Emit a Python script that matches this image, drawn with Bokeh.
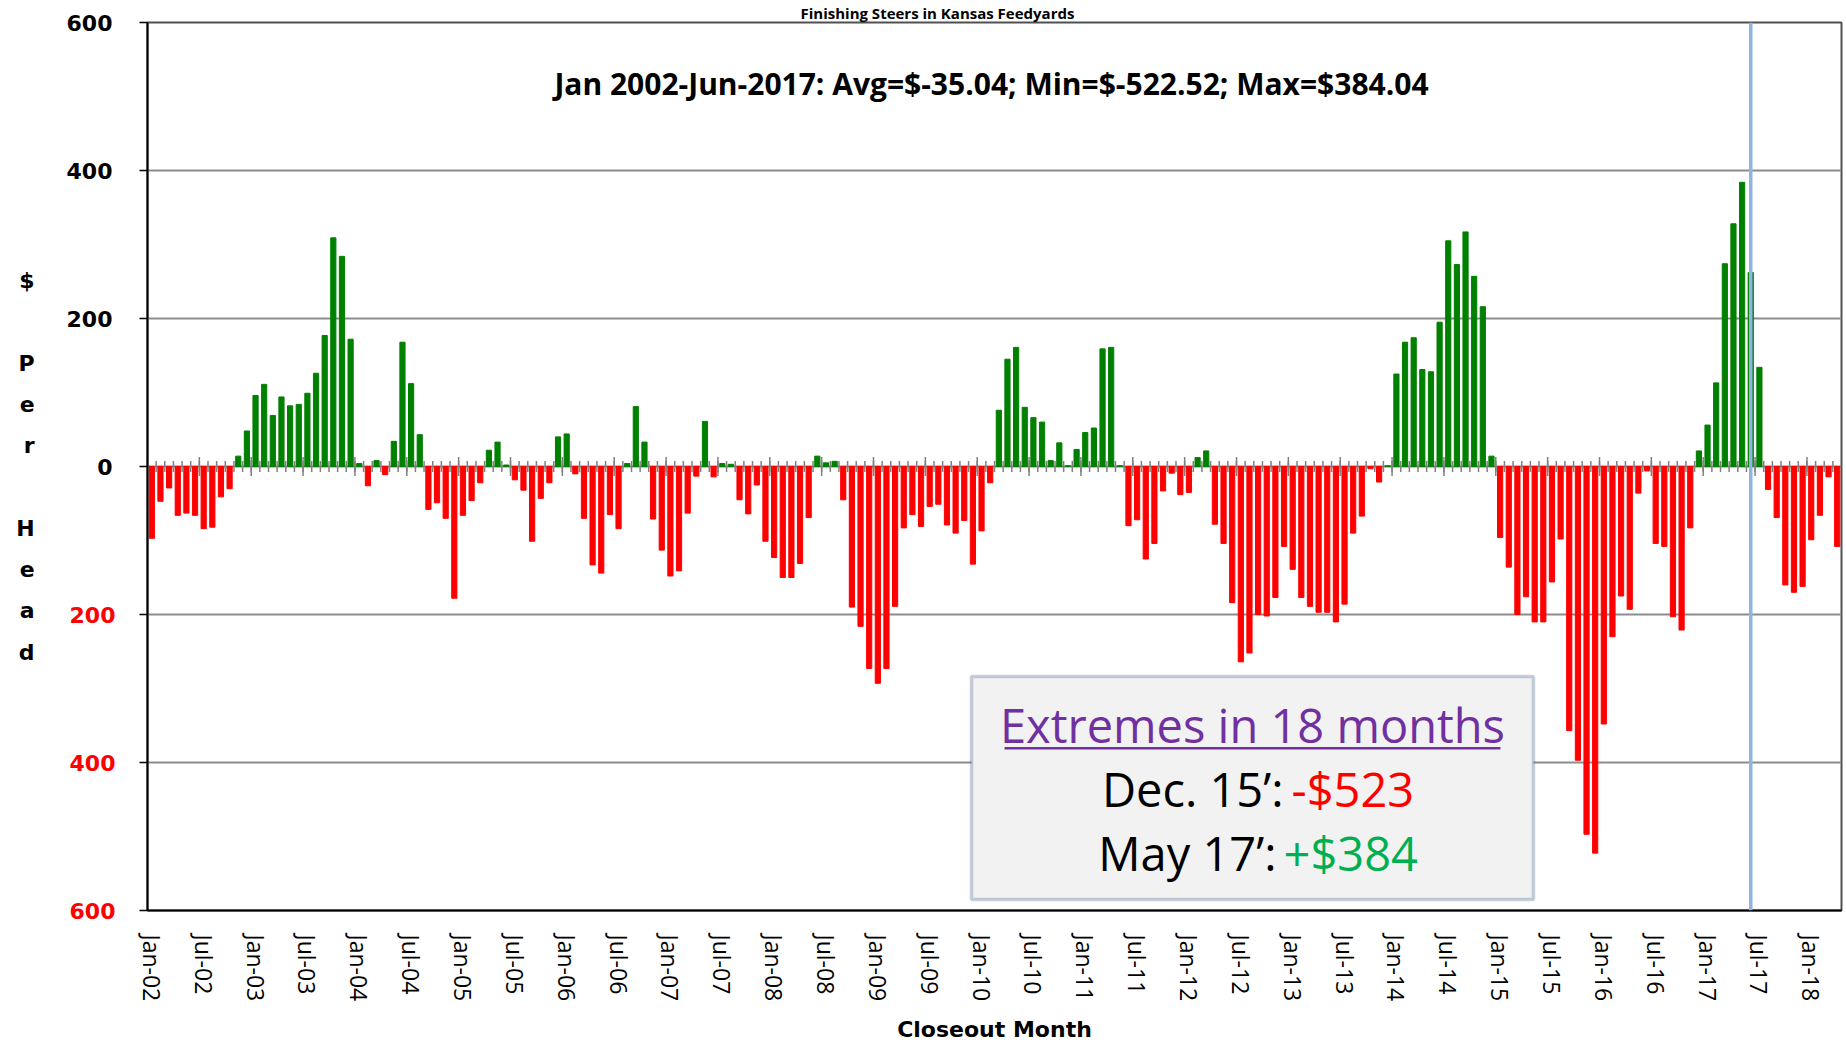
from math import pi
import pandas as pd
from bokeh.plotting import figure
from bokeh.models import FixedTicker, Span, Label, BoxAnnotation, Range1d, ColumnDataSource, LinearAxis
from bokeh.embed import file_html
from bokeh.resources import INLINE

# ---------------- data ----------------
months = list(pd.date_range("2002-01-01", periods=196, freq="MS").strftime("%b-%y"))

tick_labels = ["Jan-02", "Jul-02", "Jan-03", "Jul-03", "Jan-04", "Jul-04", "Jan-05", "Jul-05",
               "Jan-06", "Jul-06", "Jan-07", "Jul-07", "Jan-08", "Jul-08", "Jan-09", "Jul-09",
               "Jan-10", "Jul-10", "Jan-11", "Jul-11", "Jan-12", "Jul-12", "Jan-13", "Jul-13",
               "Jan-14", "Jul-14", "Jan-15", "Jul-15", "Jan-16", "Jul-16", "Jan-17", "Jul-17",
               "Jan-18"]

profit = [
    -97, -47, -29, -66, -63, -66, -84, -82, -41, -30, 14, 48,            # 2002
    96, 111, 69, 94, 82, 84, 99, 126, 177, 309, 284, 172,                # 2003
    4, -26, 8, -11, 34, 168, 112, 43, -58, -49, -70, -178,               # 2004
    -66, -46, -22, 22, 33, 2, -18, -32, -101, -43, -22, 40,              # 2005
    44, -10, -70, -133, -144, -65, -84, 4, 81, 33, -71, -113,            # 2006
    -148, -141, -63, -13, 61, -14, 4, 3, -45, -64, -25, -101,            # 2007
    -123, -150, -150, -131, -69, 14, 5, 7, -45, -190, -216, -273,        # 2008
    -293, -273, -189, -83, -65, -81, -54, -51, -79, -90, -73, -132,      # 2009
    -87, -22, 76, 145, 161, 80, 66, 60, 8, 32, 1, 23,                    # 2010
    46, 52, 159, 161, 1, -80, -72, -125, -104, -33, -9, -38,             # 2011
    -35, 12, 21, -78, -104, -184, -264, -252, -200, -202, -177, -108,    # 2012
    -139, -177, -189, -197, -197, -210, -186, -90, -67, -3, -21, 1,      # 2013
    125, 168, 174, 131, 128, 195, 305, 273, 317, 257, 216, 14,           # 2014
    -96, -136, -200, -176, -210, -210, -156, -98, -357, -397, -497, -522.52,  # 2015
    -348, -230, -175, -193, -36, -6, -104, -108, -203, -221, -83, 21,    # 2016
    56, 113, 274, 328, 384.04, 262, 134, -31, -69, -160, -170, -162,     # 2017
    -99, -66, -14, -108,                                                 # 2018
]
assert len(profit) == len(months)

y_ticks = [-600, -400, -200, 0, 200, 400, 600]
pos_ticks = [0, 200, 400, 600]
y_grid = [-400, -200, 200, 400]
marker_month = "Jun-17"

title_text = "Finishing Steers in Kansas Feedyards"
subtitle_text = "Jan 2002-Jun-2017:  Avg=$-35.04; Min=$-522.52; Max=$384.04"
ylabel_text = "$\n\nP\ne\nr\n\nH\ne\na\nd"
xlabel_text = "Closeout Month"
box_title = "Extremes in 18 months"
box_line1 = ("Dec. 15\u2019:", "-$523")
box_line2 = ("May 17\u2019:", "+$384")

GREEN = "#008000"
RED = "#FF0000"

# ---------------- figure ----------------
x = list(range(len(months)))
colors = [GREEN if v >= 0 else RED for v in profit]
src = ColumnDataSource(dict(x=x, top=profit, color=colors, month=months))

x_lo, x_hi = -0.5, len(months) - 0.5
p = figure(width=1844, height=1045, output_backend="svg", toolbar_location=None,
           x_range=Range1d(x_lo, x_hi), y_range=Range1d(-600, 600),
           min_border_left=147, min_border_right=3, min_border_top=20, min_border_bottom=133,
           background_fill_color="white", border_fill_color="white")

p.outline_line_color = "#505050"
p.outline_line_width = 2

# title (small, so it fits above the plot area)
p.title.text = title_text
p.title.align = "left"
p.title.offset = 653
p.title.standoff = 0
p.title.text_font = "Open Sans"
p.title.text_font_style = "bold"
p.title.text_font_size = "15px"
p.title.text_color = "black"

# grid
p.xgrid.visible = False
p.ygrid.ticker = FixedTicker(ticks=y_grid)
p.ygrid.grid_line_color = "#8C8C8C"
p.ygrid.grid_line_width = 2

LABEL_FONT = dict(major_label_text_font="DejaVu Sans", major_label_text_font_style="bold",
                  major_label_text_font_size="22px")

# inner y axis: all tick marks, red labels for the negative half (no minus sign)
yin = p.yaxis[0]
yin.ticker = FixedTicker(ticks=y_ticks)
yin.major_label_overrides = {v: (str(abs(v)) if v < 0 else "") for v in y_ticks}
yin.major_tick_out = 8
yin.major_tick_in = 0
yin.minor_tick_out = 0
yin.minor_tick_in = 0
yin.axis_line_color = "black"
yin.axis_line_width = 2
yin.major_tick_line_color = "black"
yin.major_tick_line_width = 1.5
yin.major_label_standoff = 24
yin.major_label_text_color = RED
for k, v in LABEL_FONT.items():
    setattr(yin, k, v)

# outer y axis: black labels for the positive half, pulled back in line with the inner labels
yout = LinearAxis(ticker=FixedTicker(ticks=pos_ticks), major_tick_out=0, major_tick_in=0,
                  minor_tick_out=0, minor_tick_in=0, axis_line_color=None,
                  major_tick_line_color=None, major_label_standoff=-46,
                  major_label_text_color="black", **LABEL_FONT)
yout.axis_label = ylabel_text
yout.axis_label_orientation = "horizontal"
yout.axis_label_standoff = 29
yout.axis_label_text_font = "DejaVu Sans"
yout.axis_label_text_font_style = "bold"
yout.axis_label_text_font_size = "22px"
yout.axis_label_text_line_height = 1.65
yout.axis_label_text_color = "black"
p.add_layout(yout, "left")

# x axis
tick_pos = [months.index(t) for t in tick_labels]
p.xaxis.ticker = FixedTicker(ticks=tick_pos)
p.xaxis.major_label_overrides = {months.index(t): t for t in tick_labels}
p.xaxis.major_label_orientation = "vertical"
p.xaxis.major_label_text_font = "Open Sans"
p.xaxis.major_label_text_font_size = "23px"
p.xaxis.major_label_text_color = "black"
p.xaxis.major_label_standoff = 24
p.xaxis.major_tick_out = 0
p.xaxis.major_tick_in = 0
p.xaxis.minor_tick_out = 0
p.xaxis.minor_tick_in = 0
p.xaxis.axis_line_color = "black"
p.xaxis.axis_line_width = 2
p.xaxis.axis_label = xlabel_text
p.xaxis.axis_label_standoff = 13
p.xaxis.axis_label_text_font = "DejaVu Sans"
p.xaxis.axis_label_text_font_style = "bold"
p.xaxis.axis_label_text_font_size = "22px"
p.xaxis.axis_label_text_color = "black"

# zero line with category tick marks
p.add_layout(Span(location=0, dimension="width", line_color="#808080", line_width=2, level="underlay"))
bounds = [i - 0.5 for i in x[1:]]
p.scatter(x=bounds, y=[0] * len(bounds), marker="dash", angle=pi / 2, size=11,
          line_color="#808080", line_width=1.5)
major_bounds = [t - 0.5 for t in tick_pos[1:]]
p.scatter(x=major_bounds, y=[0] * len(major_bounds), marker="dash", angle=pi / 2, size=19,
          line_color="#808080", line_width=1.5)

# bars
p.vbar(x="x", top="top", bottom=0, width=0.6, color="color", source=src)

# current month marker
p.add_layout(Span(location=months.index(marker_month), dimension="height",
                  line_color="#8DB4E2", line_width=3.5))

# subtitle
p.add_layout(Label(x=97.6, y=518, text=subtitle_text, text_align="center",
                   text_baseline="middle", text_font="Open Sans", text_font_style="bold",
                   text_font_size="30px", text_color="black"))

# annotation box
p.add_layout(BoxAnnotation(left=94.84, right=159.86, top=-283.9, bottom=-585.2,
                           fill_color="#F2F2F2", fill_alpha=1.0,
                           line_color="#41608C", line_width=3.5))
p.add_layout(BoxAnnotation(left=98.66, right=156.04, top=-379.0, bottom=-382.6,
                           fill_color="#7030A0", fill_alpha=1.0, line_alpha=0))
p.add_layout(Label(x=127.35, y=-349.8, text=box_title, text_align="center",
                   text_baseline="middle", text_font="Open Sans", text_font_size="47px",
                   text_color="#7030A0"))
p.add_layout(Label(x=130.94, y=-435.9, text=box_line1[0], text_align="right",
                   text_baseline="middle", text_font="Open Sans", text_font_size="47px",
                   text_color="black"))
p.add_layout(Label(x=131.87, y=-435.9, text=box_line1[1], text_align="left",
                   text_baseline="middle", text_font="Open Sans", text_font_size="47px",
                   text_color=RED))
p.add_layout(Label(x=130.13, y=-522.0, text=box_line2[0], text_align="right",
                   text_baseline="middle", text_font="Open Sans", text_font_size="47px",
                   text_color="black"))
p.add_layout(Label(x=130.94, y=-522.0, text=box_line2[1], text_align="left",
                   text_baseline="middle", text_font="Open Sans", text_font_size="47px",
                   text_color="#00B050"))

open("out.html", "w").write(file_html(p, INLINE))
